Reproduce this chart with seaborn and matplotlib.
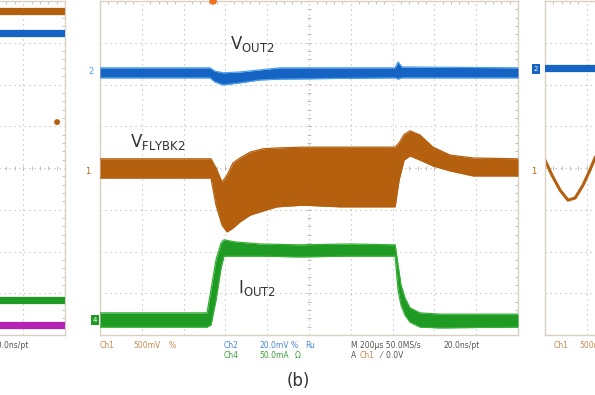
import numpy as np
import pandas as pd
import seaborn as sns
import matplotlib.pyplot as plt

# ---- main panel (200 us/div, levels in screen divisions) ----
vout_t = [0, 526, 550, 589, 670, 766, 861, 1412, 1426, 1445, 2000]
vout_top = [6.40, 6.40, 6.32, 6.28, 6.30, 6.35, 6.40, 6.40, 6.54, 6.42, 6.40]
vout_bot = [6.16, 6.16, 6.06, 5.99, 6.04, 6.11, 6.13, 6.16, 6.13, 6.16, 6.16]

vfly_t = [0, 531, 555, 584, 608, 636, 670, 718, 780, 847, 972, 1148, 1412,
          1431, 1455, 1483, 1531, 1593, 1675, 1785, 2000]
vfly_top = [4.22, 4.22, 4.00, 3.66, 3.83, 4.12, 4.24, 4.38, 4.46, 4.48, 4.50,
            4.50, 4.50, 4.60, 4.80, 4.89, 4.79, 4.50, 4.31, 4.24, 4.22]
vfly_bot = [3.76, 3.76, 3.11, 2.63, 2.47, 2.56, 2.71, 2.87, 2.97, 3.07, 3.11,
            3.07, 3.07, 3.71, 4.19, 4.29, 4.19, 4.05, 3.93, 3.81, 3.81]

iout_t = [0, 512, 531, 555, 579, 593, 646, 766, 957, 1196, 1412, 1426, 1440,
          1459, 1483, 1531, 1627, 2000]
iout_top = [0.53, 0.53, 1.08, 1.80, 2.20, 2.28, 2.23, 2.18, 2.16, 2.18, 2.16,
            1.68, 1.20, 0.89, 0.65, 0.53, 0.50, 0.50]
iout_bot = [0.19, 0.19, 0.24, 0.84, 1.60, 1.89, 1.89, 1.89, 1.87, 1.89, 1.89,
            1.08, 0.72, 0.48, 0.31, 0.19, 0.17, 0.19]

trigger_t = [541]
trigger_lvl = [8.0]

# ---- left panel (only right edge visible) ----
left_t = [0, 2000]
left_bands = {
    "orange": (7.84, 7.68),
    "blue": (7.31, 7.16),
    "green": (0.91, 0.77),
    "magenta": (0.31, 0.17),
}
left_trig_t = [1962]
left_trig_lvl = [5.10]

# ---- right panel (only left edge visible) ----
right_t = [0, 2000]
right_blue = [6.40, 6.40]
sine_t = [0, 33, 72, 110, 144, 182, 215, 239, 263]
sine_v = [4.19, 3.83, 3.47, 3.23, 3.28, 3.59, 3.95, 4.24, 4.43]

ORANGE = "#b5600f"
BLUE = "#1564c4"
LBLUE = "#4aa0ea"
GREEN = "#1f9a22"
MAGENTA = "#b424b4"
GRID = "#b9b4ab"
FRAME = "#d9d2c4"

W, H = 595, 395


def place(l, t, r, b):
    return [l / W, 1 - b / H, (r - l) / W, (b - t) / H]


def scope_axes(fig, rect):
    ax = fig.add_axes(rect)
    ax.set_xlim(0, 2000)
    ax.set_ylim(0, 8)
    ax.set_xticks(np.arange(0, 2001, 200))
    ax.set_yticks(np.arange(0, 9, 1))
    ax.set_xticks(np.arange(0, 2001, 40), minor=True)
    ax.set_yticks(np.arange(0, 8.01, 0.2), minor=True)
    ax.grid(True, which="major", color=GRID, linestyle=(0, (1, 3.5)), lw=0.8)
    ax.tick_params(which="both", direction="in", top=True, right=True,
                   labelbottom=False, labelleft=False, color=GRID)
    ax.tick_params(which="major", length=0)
    ax.tick_params(which="minor", length=2.5, width=0.6)
    for s in ax.spines.values():
        s.set_color(FRAME)
        s.set_linewidth(1.0)
    # centre cross with small ticks
    cx = ax.secondary_xaxis(0.5)
    cx.set_xticks(np.arange(0, 2001, 40))
    cx.xaxis.set_ticklabels([])
    cx.tick_params(direction="inout", length=3, width=0.6, color=GRID)
    for s in cx.spines.values():
        s.set_visible(False)
    cy = ax.secondary_yaxis(0.5)
    cy.set_yticks(np.arange(0, 8.01, 0.2))
    cy.yaxis.set_ticklabels([])
    cy.tick_params(direction="inout", length=3, width=0.6, color=GRID)
    for s in cy.spines.values():
        s.set_visible(False)
    return ax


def band(ax, t, top, bot, color, edge):
    ax.fill_between(t, bot, top, color=color, lw=0, zorder=3)
    sns.lineplot(x=t, y=top, ax=ax, color=edge, lw=0.9, estimator=None, sort=False, zorder=3)
    sns.lineplot(x=t, y=bot, ax=ax, color=edge, lw=0.9, estimator=None, sort=False, zorder=3)


sns.set_style("white")
plt.rcParams["font.family"] = ["DejaVu Sans"]
fig = plt.figure(figsize=(W / 100, H / 100), dpi=100)

# main panel
ax = scope_axes(fig, place(100, 1, 518, 335))
band(ax, vout_t, vout_top, vout_bot, BLUE, LBLUE)
band(ax, vfly_t, vfly_top, vfly_bot, ORANGE, ORANGE)
band(ax, iout_t, iout_top, iout_bot, GREEN, "#35b035")
sns.scatterplot(x=trigger_t, y=trigger_lvl, ax=ax, color="#f07020", s=30,
                edgecolor="none", clip_on=False, zorder=5)

ax.text(623, 6.85, r"V$_{\mathregular{OUT2}}$", fontsize=12, color="#333333")
ax.text(145, 4.50, r"V$_{\mathregular{FLYBK2}}$", fontsize=12, color="#333333")
ax.text(660, 1.0, r"I$_{\mathregular{OUT2}}$", fontsize=12, color="#333333")

# left panel
axl = scope_axes(fig, place(-353, 1, 65, 335))
for name, (hi, lo) in left_bands.items():
    c = {"orange": ORANGE, "blue": BLUE, "green": GREEN, "magenta": MAGENTA}[name]
    band(axl, left_t, [hi, hi], [lo, lo], c, c)
sns.scatterplot(x=left_trig_t, y=left_trig_lvl, ax=axl, color=ORANGE, s=18,
                edgecolor="none", clip_on=False, zorder=5)

# right panel
axr = scope_axes(fig, place(545, 1, 963, 335))
band(axr, right_t, [v + 0.07 for v in right_blue], [v - 0.07 for v in right_blue], BLUE, BLUE)
sns.lineplot(x=sine_t, y=sine_v, ax=axr, color=ORANGE, lw=2.2, estimator=None, sort=False)

# channel markers
def fx(px):
    return px / W


def fy(py):
    return 1 - py / H


fig.text(fx(91), fy(72), "2", color=LBLUE, fontsize=6, ha="center", va="center")
fig.text(fx(88), fy(172), "1", color=ORANGE, fontsize=6, ha="center", va="center")
fig.text(fx(95), fy(320), "4", color="white", fontsize=5, ha="center", va="center",
         bbox=dict(boxstyle="square,pad=0.25", fc=GREEN, ec="none"))
fig.text(fx(536), fy(69), "2", color="white", fontsize=5, ha="center", va="center",
         bbox=dict(boxstyle="square,pad=0.3", fc=BLUE, ec="none"))
fig.text(fx(534), fy(172), "1", color=ORANGE, fontsize=6, ha="center", va="center")

# status text under the traces
fs = 5.5
row1, row2 = fy(345), fy(356)
fig.text(fx(100), row1, "Ch1", color="#c98a4f", fontsize=fs, va="center")
fig.text(fx(133), row1, "500mV", color="#c98a4f", fontsize=fs, va="center")
fig.text(fx(169), row1, "%", color="#c98a4f", fontsize=fs, va="center")
fig.text(fx(224), row1, "Ch2", color="#4a86d8", fontsize=fs, va="center")
fig.text(fx(259), row1, "20.0mV", color="#4a86d8", fontsize=fs, va="center")
fig.text(fx(291), row1, "%", color="#4a86d8", fontsize=fs, va="center")
fig.text(fx(305), row1, "Ru", color="#4a86d8", fontsize=fs, va="center")
fig.text(fx(224), row2, "Ch4", color="#3aa03a", fontsize=fs, va="center")
fig.text(fx(259), row2, "50.0mA", color="#3aa03a", fontsize=fs, va="center")
fig.text(fx(295), row2, "Ω", color="#3aa03a", fontsize=fs, va="center")
fig.text(fx(351), row1, "M 200µs 50.0MS/s", color="#555555", fontsize=fs, va="center")
fig.text(fx(443), row1, "20.0ns/pt", color="#555555", fontsize=fs, va="center")
fig.text(fx(351), row2, "A", color="#555555", fontsize=fs, va="center")
fig.text(fx(360), row2, "Ch1", color="#c98a4f", fontsize=fs, va="center")
fig.text(fx(380), row2, "⁄  0.0V", color="#555555", fontsize=fs, va="center")
fig.text(fx(29), row1, "20.0ns/pt", color="#555555", fontsize=fs, va="center", ha="right")
fig.text(fx(554), row1, "Ch1", color="#c98a4f", fontsize=fs, va="center")
fig.text(fx(579), row1, "500mV", color="#c98a4f", fontsize=fs, va="center")

fig.text(fx(298), fy(381), "(b)", color="#333333", fontsize=12, ha="center", va="center")

fig.savefig("out.png", dpi=100)
plt.close(fig)
